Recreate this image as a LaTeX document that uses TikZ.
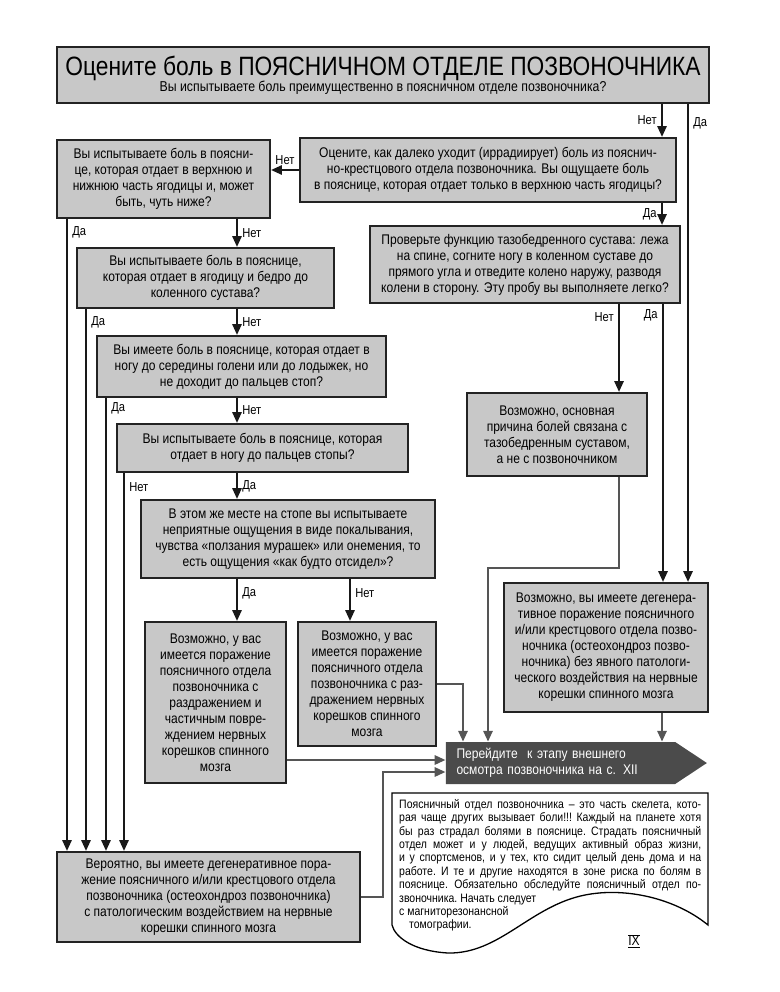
\documentclass[tikz,border=0pt]{standalone}
\usepackage{fontspec}
\setmainfont{Liberation Sans}[FakeStretch=0.86]
\usetikzlibrary{arrows.meta,shapes.symbols}
\definecolor{boxgray}{RGB}{200,200,200}
\definecolor{boxline}{RGB}{35,35,35}
\definecolor{gotogray}{RGB}{75,75,75}
\definecolor{linkgray}{RGB}{85,85,85}
\newcommand{\BoxFont}{\fontsize{14}{16}\selectfont}
\newcommand{\LabelFont}{\fontsize{13}{14}\selectfont}
\newcommand{\NoteFont}{\fontsize{12.2}{13.4}\selectfont}

\begin{document}
\begin{tikzpicture}[x=1pt, y=-1pt]
    \useasboundingbox (0,0) rectangle (779,992);
    \tikzset{QuestionBox/.style={draw=boxline, fill=boxgray, line width=1.8pt, align=center, inner sep=0pt, font=\BoxFont}}
    \tikzset{GoToArrow/.style={signal, signal to=east, signal pointer angle=67, fill=gotogray, text=white, text width=208pt, align=left, inner sep=0pt, font=\BoxFont}}
    \tikzset{Connection/.style={-{Triangle[length=11pt,width=9pt]}, line width=2.6pt, draw=black!90}}
    \tikzset{GrayConnection/.style={-{Triangle[length=11pt,width=9pt]}, line width=2.8pt, draw=linkgray}}
    \tikzset{Answer/.style={font=\LabelFont, inner sep=4pt}}

    % lanes of the connectors
    \coordinate (colTopNo) at (662, 0);
    \coordinate (colTopYes) at (688, 0);
    \coordinate (colHipNo) at (619, 0);
    \coordinate (colHipYes) at (663, 0);
    \coordinate (colMid) at (237, 0);
    \coordinate (colMidNo) at (350, 0);
    \coordinate (colYesA) at (67, 0);
    \coordinate (colYesB) at (86, 0);
    \coordinate (colYesC) at (106, 0);
    \coordinate (colNoD) at (124, 0);
    \coordinate (colGoA) at (463, 0);
    \coordinate (colGoB) at (488, 0);
    \coordinate (colGoC) at (662, 0);
    \coordinate (colGoD) at (383, 0);
    \coordinate (rowHip) at (0, 568);
    \coordinate (rowHigh) at (0, 760);
    \coordinate (rowLow) at (0, 772);

    \node[QuestionBox, minimum width=652pt, minimum height=56pt] (title) at (383, 75)
        {{\fontsize{26.5}{30}\selectfont Оцените боль в ПОЯСНИЧНОМ ОТДЕЛЕ ПОЗВОНОЧНИКА}\\
         {\fontsize{14.3}{15}\selectfont Вы испытываете боль преимущественно в поясничном отделе позвоночника?}}; % title
    \node[QuestionBox, minimum width=376pt, minimum height=64pt] (R1) at (488, 170)
        {Оцените, как далеко уходит (иррадиирует) боль из пояснич-\\но-крестцового отдела позвоночника. Вы ощущаете боль\\в пояснице, которая отдает только в верхнюю часть ягодицы?}; % radiation
    \node[QuestionBox, minimum width=213pt, minimum height=78pt] (L1) at (163.5, 179)
        {Вы испытываете боль в поясни-\\це, которая отдает в верхнюю и\\нижнюю часть ягодицы и, может\\быть, чуть ниже?}; % buttock
    \node[QuestionBox, minimum width=310pt, minimum height=77pt] (R2) at (525, 264.5)
        {Проверьте функцию тазобедренного сустава: лежа\\на спине, согните ногу в коленном суставе до\\прямого угла и отведите колено наружу, разводя\\колени в сторону. Эту пробу вы выполняете легко?}; % hip test
    \node[QuestionBox, minimum width=257pt, minimum height=60pt] (L2) at (205.5, 278)
        {Вы испытываете боль в пояснице,\\которая отдает в ягодицу и бедро до\\коленного сустава?}; % thigh
    \node[QuestionBox, minimum width=289pt, minimum height=61pt] (L3) at (241.5, 366.5)
        {Вы имеете боль в пояснице, которая отдает в\\ногу до середины голени или до лодыжек, но\\не доходит до пальцев стоп?}; % shin
    \node[QuestionBox, minimum width=291pt, minimum height=48pt] (L4) at (262.5, 448)
        {Вы испытываете боль в пояснице, которая\\отдает в ногу до пальцев стопы?}; % toes
    \node[QuestionBox, minimum width=180pt, minimum height=83pt] (R3) at (557, 434.5)
        {Возможно, основная\\причина болей связана с\\тазобедренным суставом,\\а не с позвоночником}; % hip joint
    \node[QuestionBox, minimum width=294pt, minimum height=78pt] (L5) at (288, 539)
        {В этом же месте на стопе вы испытываете\\неприятные ощущения в виде покалывания,\\чувства «ползания мурашек» или онемения, то\\есть ощущения «как будто отсидел»?}; % numbness
    \node[QuestionBox, minimum width=204pt, minimum height=129pt] (R4) at (606, 647.5)
        {Возможно, вы имеете дегенера-\\тивное поражение поясничного\\и/или крестцового отдела позво-\\ночника (остеохондроз позво-\\ночника) без явного патологи-\\ческого воздействия на нервные\\корешки спинного мозга}; % no root damage
    \node[QuestionBox, minimum width=141pt, minimum height=161pt] (D1) at (215.5, 702.5)
        {Возможно, у вас\\имеется поражение\\поясничного отдела\\позвоночника с\\раздражением и\\частичным повре-\\ждением нервных\\корешков спинного\\мозга}; % partial damage
    \node[QuestionBox, minimum width=138pt, minimum height=124pt] (D2) at (367, 684)
        {Возможно, у вас\\имеется поражение\\поясничного отдела\\позвоночника с раз-\\дражением нервных\\корешков спинного\\мозга}; % irritation
    \node[QuestionBox, minimum width=303pt, minimum height=90pt] (B) at (208.5, 897)
        {Вероятно, вы имеете дегенеративное пора-\\жение поясничного и/или крестцового отдела\\позвоночника (остеохондроз позвоночника)\\с патологическим воздействием на нервные\\корешки спинного мозга}; % root damage
    \node[GoToArrow, minimum width=261pt, minimum height=42pt] (goto) at (560.5, 763)
        {Перейдите\ \ к этапу внешнего\\осмотра позвоночника на с. XII}; % next step

    % note with the wavy lower edge
    \draw[line width=1.3pt, fill=white] (392,925) -- (392,793) -- (708,793) -- (708,925)
        .. controls (675,898) and (625,887) .. (585,895)
        .. controls (530,906) and (500,954) .. (448,953)
        .. controls (413,951) and (395,937) .. (392,925);
    \node[anchor=north west, text width=302pt, align=justify, inner sep=0pt, font=\NoteFont] (note) at (399, 799)
        {\frenchspacing\hyphenpenalty=10000 \tolerance=10000
         Поясничный отдел позвоночника – это часть скелета, кото-\linebreak
         рая чаще других вызывает боли!!! Каждый на планете хотя\linebreak
         бы раз страдал болями в пояснице. Страдать поясничный\linebreak
         отдел может и у людей, ведущих активный образ жизни,\linebreak
         и у спортсменов, и у тех, кто сидит целый день дома и на\linebreak
         работе. И те и другие находятся в зоне риска по болям в\linebreak
         пояснице. Обязательно обследуйте поясничный отдел по-\linebreak
         звоночника. Начать следует\newline
         с магниторезонансной\newline
         \hspace*{10pt}томографии.};
    \node[font=\fontsize{14}{16}\selectfont] (pagenum) at (634, 941) {$\underline{\overline{\mbox{IX}}}$};

    \draw[Connection] (title.south -| colTopNo) -- node[Answer, midway, left] {Нет} (R1.north -| colTopNo);
    \draw[Connection] (title.south -| colTopYes) -- node[Answer, pos=0.04, right] {Да} (R4.north -| colTopYes);
    \draw[Connection] (R1.west) -- node[Answer, midway, above] {Нет} (L1.east |- R1.west);
    \draw[Connection] (R1.south -| colTopNo) -- node[Answer, midway, left] {Да} (R2.north -| colTopNo);
    \draw[Connection] (R2.south -| colHipNo) -- node[Answer, pos=0.15, left] {Нет} (R3.north -| colHipNo);
    \draw[Connection] (R2.south -| colHipYes) -- node[Answer, pos=0.04, left] {Да} (R4.north -| colHipYes);
    \draw[Connection] (L1.south -| colYesA) -- node[Answer, pos=0.022, right] {Да} (B.north -| colYesA);
    \draw[Connection] (L1.south -| colMid) -- node[Answer, midway, right] {Нет} (L2.north -| colMid);
    \draw[Connection] (L2.south -| colYesB) -- node[Answer, pos=0.024, right] {Да} (B.north -| colYesB);
    \draw[Connection] (L2.south -| colMid) -- node[Answer, midway, right] {Нет} (L3.north -| colMid);
    \draw[Connection] (L3.south -| colYesC) -- node[Answer, pos=0.024, right] {Да} (B.north -| colYesC);
    \draw[Connection] (L3.south -| colMid) -- node[Answer, midway, right] {Нет} (L4.north -| colMid);
    \draw[Connection] (L4.south -| colNoD) -- node[Answer, pos=0.037, right] {Нет} (B.north -| colNoD);
    \draw[Connection] (L4.south -| colMid) -- node[Answer, midway, right] {Да} (L5.north -| colMid);
    \draw[Connection] (L5.south -| colMid) -- node[Answer, pos=0.33, right] {Да} (D1.north -| colMid);
    \draw[Connection] (L5.south -| colMidNo) -- node[Answer, pos=0.33, right] {Нет} (D2.north -| colMidNo);

    \draw[GrayConnection] (D2.east) -| (goto.north -| colGoA);
    \draw[GrayConnection] (R3.south -| colHipNo) |- (rowHip -| colGoB) -- (goto.north -| colGoB);
    \draw[GrayConnection] (R4.south -| colGoC) -- (goto.north -| colGoC);
    \draw[GrayConnection] (D1.east |- rowHigh) -- (goto.west |- rowHigh);
    \draw[GrayConnection] (B.east) -| (rowLow -| colGoD) -- (goto.west |- rowLow);
\end{tikzpicture}
\end{document}
